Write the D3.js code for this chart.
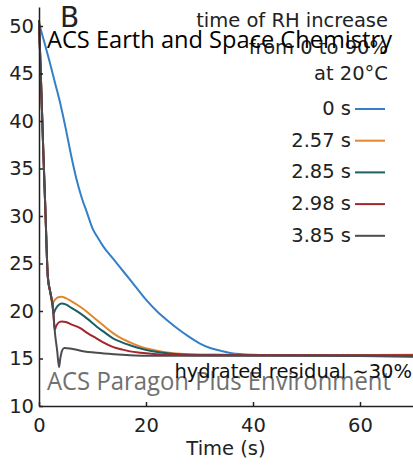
<!DOCTYPE html>
<html>
<head>
<meta charset="utf-8">
<script src="https://cdn.jsdelivr.net/npm/d3@7"></script>
<style>
  body { margin: 0; background: #fff; }
  svg { display: block; }
</style>
</head>
<body>
<div id="chart"></div>
<script>
'use strict';

// series labels and colours (time of RH increase)
const seriesLabels = ['0 s', '2.57 s', '2.85 s', '2.98 s', '3.85 s'];
const seriesColors = ['#3380c8', '#e3862e', '#1b5e63', '#a3262c', '#4b4b52'];

const xTicks = [0, 20, 40, 60];
const yTicks = [10, 15, 20, 25, 30, 35, 40, 45, 50];

// 0 s
const t0 = [0, 1, 2, 3, 4, 5, 6, 7, 8, 9, 10, 11, 12, 14, 16, 18, 20, 22, 24, 26, 28, 30, 32, 34, 36, 38, 40, 45, 50, 55, 60, 65, 70];
const v0 = [50.3, 48.3, 46.2, 44.0, 41.8, 39.2, 36.4, 33.9, 31.9, 30.3, 28.7, 27.7, 26.8, 25.4, 24.0, 22.6, 21.2, 20.0, 19.0, 18.1, 17.3, 16.6, 16.1, 15.8, 15.55, 15.45, 15.4, 15.35, 15.3, 15.3, 15.25, 15.2, 15.15];

// 2.57 s
const t1 = [0, 0.4, 0.8, 1.2, 1.65, 2.1, 2.5, 2.75, 3.1, 3.6, 4.2, 5, 6, 7.7, 9, 10.8, 12, 13.9, 15.5, 17, 19, 21.4, 25, 28, 35, 45, 55, 70];
const v1 = [50.6, 43.8, 36.9, 30.5, 23.6, 22.0, 20.7, 21.0, 21.25, 21.45, 21.5, 21.35, 21.05, 20.45, 19.9, 19.05, 18.5, 17.65, 17.1, 16.7, 16.25, 15.9, 15.55, 15.45, 15.4, 15.35, 15.35, 15.4];

// 2.85 s
const t2 = [0, 0.4, 0.8, 1.2, 1.65, 2.1, 2.5, 2.7, 3.0, 3.5, 4.2, 5, 6, 7.7, 9, 10.8, 12, 13.9, 15.5, 17, 19, 21, 24, 27, 30, 40, 50, 60, 70];
const v2 = [50.6, 43.8, 36.9, 30.5, 23.6, 22.0, 20.8, 19.7, 20.1, 20.55, 20.8, 20.7, 20.35, 19.75, 19.2, 18.35, 17.85, 17.1, 16.7, 16.4, 16.05, 15.8, 15.55, 15.42, 15.38, 15.35, 15.35, 15.3, 15.3];

// 2.98 s
const t3 = [0, 0.4, 0.8, 1.2, 1.65, 2.1, 2.5, 2.7, 2.93, 3.2, 3.6, 4.2, 5, 6, 7.7, 9, 10.8, 12, 13.9, 15.5, 17, 19, 22, 25, 30, 40, 55, 70];
const v3 = [50.6, 43.8, 36.9, 30.5, 23.6, 22.0, 20.8, 19.7, 18.0, 18.4, 18.75, 18.9, 18.85, 18.6, 18.2, 17.7, 17.1, 16.7, 16.2, 15.95, 15.75, 15.6, 15.45, 15.4, 15.35, 15.35, 15.35, 15.35];

// 3.85 s
const t4 = [0, 0.4, 0.8, 1.2, 1.65, 2.1, 2.5, 2.7, 2.93, 3.4, 3.75, 3.95, 4.3, 4.7, 5.8, 8, 10.8, 14, 17, 20, 30, 45, 60, 70];
const v4 = [50.6, 43.8, 36.9, 30.5, 23.6, 22.0, 20.8, 19.7, 18.0, 15.8, 14.1, 14.9, 15.8, 16.1, 16.05, 15.8, 15.6, 15.45, 15.35, 15.3, 15.3, 15.3, 15.3, 15.25];

const seriesT = [t0, t1, t2, t3, t4];
const seriesV = [v0, v1, v2, v3, v4];

const width = 413, height = 465;
const font = 'DejaVu Sans, sans-serif';

const svg = d3.select('#chart').append('svg')
    .attr('width', width)
    .attr('height', height);

const x = d3.scaleLinear()
    .domain([0, 70])
    .range([39, 413.5]);

const y = d3.scaleLinear()
    .domain([10, 52])
    .range([406, 7]);

// watermark under the curves
svg.append('text')
    .attr('x', 47)
    .attr('y', 390)
    .attr('font-family', 'Open Sans, sans-serif')
    .attr('font-size', 26)
    .attr('fill', '#707070')
    .attr('textLength', 344)
    .attr('lengthAdjust', 'spacingAndGlyphs')
    .text('ACS Paragon Plus Environment');

const line = d3.line()
    .x(d => x(d[0]))
    .y(d => y(d[1]))
    .curve(d3.curveMonotoneX);

seriesT.forEach((ts, i) => {
  svg.append('path')
      .datum(ts.map((t, j) => [t, seriesV[i][j]]))
      .attr('fill', 'none')
      .attr('stroke', seriesColors[i])
      .attr('stroke-width', 2)
      .attr('stroke-linejoin', 'round')
      .attr('d', line);
});

const yAxis = d3.axisLeft(y)
    .tickValues(yTicks)
    .tickSizeInner(-4)
    .tickSizeOuter(0)
    .tickPadding(5);

const xAxis = d3.axisBottom(x)
    .tickValues(xTicks)
    .tickSizeInner(-4)
    .tickSizeOuter(0)
    .tickPadding(12);

const gy = svg.append('g')
    .attr('transform', 'translate(39, 0)')
    .call(yAxis);

const gx = svg.append('g')
    .attr('transform', 'translate(0, 406)')
    .call(xAxis);

[gx, gy].forEach(g => {
  g.attr('font-family', font).attr('font-size', 19.5);
  g.select('.domain').attr('stroke', '#222').attr('stroke-width', 1.5);
  g.selectAll('.tick line').attr('stroke', '#222').attr('stroke-width', 1.5);
  g.selectAll('.tick text').attr('fill', '#222');
});

svg.append('text')
    .attr('x', 226)
    .attr('y', 455)
    .attr('text-anchor', 'middle')
    .attr('font-family', font)
    .attr('font-size', 19.5)
    .attr('fill', '#222')
    .text('Time (s)');

svg.append('text')
    .attr('x', 60)
    .attr('y', 27)
    .attr('font-family', font)
    .attr('font-size', 28)
    .attr('fill', '#222')
    .text('B');

// legend
const titleLines = ['time of RH increase', 'from 0 to 90%', 'at 20°C'];
svg.selectAll('.legend-title')
    .data(titleLines)
  .enter().append('text')
    .attr('class', 'legend-title')
    .attr('x', 388)
    .attr('y', (d, i) => 27 + i * 26.5)
    .attr('text-anchor', 'end')
    .attr('font-family', font)
    .attr('font-size', 19.5)
    .attr('fill', '#222')
    .text(d => d);

const legend = svg.selectAll('.legend-item')
    .data(seriesLabels)
  .enter().append('g')
    .attr('class', 'legend-item')
    .attr('transform', (d, i) => `translate(0, ${109 + i * 31.7})`);

legend.append('line')
    .attr('x1', 355)
    .attr('x2', 385)
    .attr('stroke', (d, i) => seriesColors[i])
    .attr('stroke-width', 2);

legend.append('text')
    .attr('x', 351)
    .attr('y', 6)
    .attr('text-anchor', 'end')
    .attr('font-family', font)
    .attr('font-size', 19.5)
    .attr('fill', '#222')
    .text(d => d);

svg.append('text')
    .attr('x', 412)
    .attr('y', 378)
    .attr('text-anchor', 'end')
    .attr('font-family', font)
    .attr('font-size', 19.5)
    .attr('fill', '#111')
    .text('hydrated residual ∼30%');

// journal watermark on top
svg.append('text')
    .attr('x', 47)
    .attr('y', 48)
    .attr('font-family', 'Open Sans, sans-serif')
    .attr('font-size', 24)
    .attr('fill', '#000')
    .attr('textLength', 345)
    .attr('lengthAdjust', 'spacingAndGlyphs')
    .text('ACS Earth and Space Chemistry');
</script>
</body>
</html>
